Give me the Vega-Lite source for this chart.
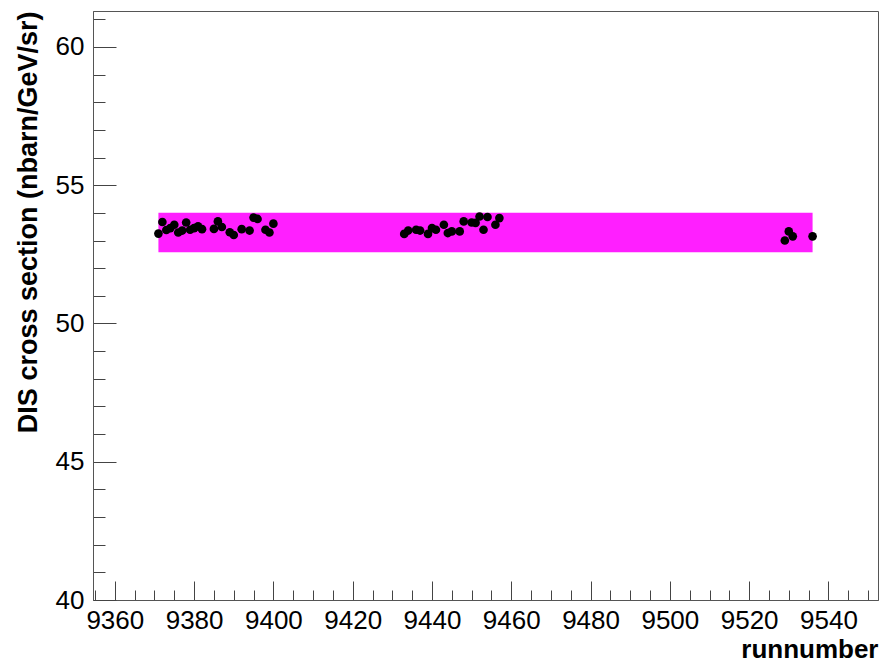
{
  "$schema": "https://vega.github.io/schema/vega-lite/v6.json",
  "width": 785,
  "height": 589,
  "autosize": "none",
  "padding": {"left": 93, "top": 11, "right": 3, "bottom": 64},
  "background": "white",
  "config": {
    "view": {"stroke": "#555", "strokeWidth": 1},
    "axis": {
      "grid": false,
      "domainColor": "#555",
      "tickColor": "#444",
      "labelFont": "Liberation Sans",
      "labelFontSize": 26,
      "labelColor": "black",
      "titleFont": "Liberation Sans",
      "titleFontWeight": "bold",
      "titleColor": "black",
      "labelOverlap": false,
      "labelFlush": false,
      "labelBound": false
    }
  },
  "datasets": {
    "band": [{"run_start": 9371, "run_end": 9536, "low": 52.58, "high": 54.0}],
    "points": [
      {"run": 9371, "xs": 53.25},
      {"run": 9372, "xs": 53.67},
      {"run": 9373, "xs": 53.38},
      {"run": 9374, "xs": 53.45},
      {"run": 9375, "xs": 53.57},
      {"run": 9376, "xs": 53.29},
      {"run": 9377, "xs": 53.36},
      {"run": 9378, "xs": 53.65},
      {"run": 9379, "xs": 53.39},
      {"run": 9380, "xs": 53.45},
      {"run": 9381, "xs": 53.51},
      {"run": 9382, "xs": 53.41},
      {"run": 9385, "xs": 53.42},
      {"run": 9386, "xs": 53.69},
      {"run": 9387, "xs": 53.49},
      {"run": 9389, "xs": 53.30},
      {"run": 9390, "xs": 53.20},
      {"run": 9392, "xs": 53.41},
      {"run": 9394, "xs": 53.36},
      {"run": 9395, "xs": 53.83},
      {"run": 9396, "xs": 53.78},
      {"run": 9398, "xs": 53.39},
      {"run": 9399, "xs": 53.29},
      {"run": 9400, "xs": 53.61},
      {"run": 9433, "xs": 53.24},
      {"run": 9434, "xs": 53.36},
      {"run": 9436, "xs": 53.39},
      {"run": 9437, "xs": 53.36},
      {"run": 9439, "xs": 53.24},
      {"run": 9440, "xs": 53.45},
      {"run": 9441, "xs": 53.39},
      {"run": 9443, "xs": 53.57},
      {"run": 9444, "xs": 53.27},
      {"run": 9445, "xs": 53.33},
      {"run": 9447, "xs": 53.33},
      {"run": 9448, "xs": 53.69},
      {"run": 9450, "xs": 53.65},
      {"run": 9451, "xs": 53.64},
      {"run": 9452, "xs": 53.87},
      {"run": 9453, "xs": 53.39},
      {"run": 9454, "xs": 53.85},
      {"run": 9456, "xs": 53.57},
      {"run": 9457, "xs": 53.81},
      {"run": 9529, "xs": 53.0},
      {"run": 9530, "xs": 53.33},
      {"run": 9531, "xs": 53.15},
      {"run": 9536, "xs": 53.15}
    ]
  },
  "layer": [
    {
      "data": {"name": "band"},
      "mark": {"type": "rect", "fill": "#ff1fff", "stroke": null},
      "encoding": {
        "x": {
          "field": "run_start", "type": "quantitative",
          "scale": {"domain": [9354.5, 9552.5], "nice": false, "zero": false},
          "axis": {
            "title": "runnumber",
            "titleFontSize": 26,
            "titleAnchor": "end",
            "titleAlign": "right",
            "titlePadding": -6,
            "tickCount": 500,
            "values": [9355,9360,9365,9370,9375,9380,9385,9390,9395,9400,9405,9410,9415,9420,9425,9430,9435,9440,9445,9450,9455,9460,9465,9470,9475,9480,9485,9490,9495,9500,9505,9510,9515,9520,9525,9530,9535,9540,9545,9550],
            "format": "d",
            "labelExpr": "datum.value % 20 === 0 ? datum.label : ''",
            "tickSize": {"condition": {"test": "datum.value % 20 === 0", "value": -19}, "value": -10},
            "labelPadding": 26
          }
        },
        "x2": {"field": "run_end"},
        "y": {
          "field": "low", "type": "quantitative",
          "scale": {"domain": [40, 61.3], "nice": false, "zero": false},
          "axis": {
            "title": "DIS cross section (nbarn/GeV/sr)",
            "titleFontSize": 27,
            "titleAnchor": "end",
            "titlePadding": 13,
            "tickCount": 500,
            "values": [40,41,42,43,44,45,46,47,48,49,50,51,52,53,54,55,56,57,58,59,60,61],
            "format": "d",
            "labelExpr": "datum.value % 5 === 0 ? datum.label : ''",
            "tickSize": {"condition": {"test": "datum.value % 5 === 0", "value": -23}, "value": -12},
            "labelPadding": 32
          }
        },
        "y2": {"field": "high"}
      }
    },
    {
      "data": {"name": "points"},
      "mark": {"type": "circle", "color": "black", "opacity": 1, "size": 75},
      "encoding": {
        "x": {"field": "run", "type": "quantitative"},
        "y": {"field": "xs", "type": "quantitative"}
      }
    }
  ]
}
